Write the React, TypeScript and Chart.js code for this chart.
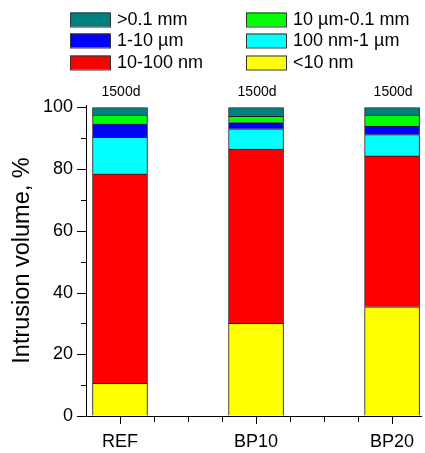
import React, { useEffect, useRef } from "react";
import { Chart, registerables } from "chart.js";

Chart.register(...registerables);

const categories = ["REF", "BP10", "BP20"];
const topLabels = ["1500d", "1500d", "1500d"];
const seriesLabels = ["<10 nm", "10-100 nm", "100 nm-1 µm", "1-10 µm", "10 µm-0.1 mm", ">0.1 mm"];
const seriesColors = ["#ffff00", "#ff0000", "#00ffff", "#0000ff", "#00ff00", "#008080"];
const below10nm = [10.6, 30.0, 35.4];
const nm10to100 = [67.9, 56.5, 48.9];
const nm100to1um = [11.8, 6.6, 6.9];
const um1to10 = [4.4, 2.0, 2.8];
const um10to01mm = [2.8, 2.0, 3.5];
const above01mm = [2.5, 2.9, 2.5];
const yTicks = [0, 10, 20, 30, 40, 50, 60, 70, 80, 90, 100];
const yTitle = "Intrusion volume, %";

const seriesValues = [below10nm, nm10to100, nm100to1um, um1to10, um10to01mm, above01mm];
const FONT = "Arial, 'Liberation Sans', sans-serif";

const drawPlugin = {
  id: "customDraw",
  afterDraw(chart: any) {
    const ctx = chart.ctx;
    const xs = chart.scales.x;
    const ys = chart.scales.y;
    const area = chart.chartArea;
    ctx.save();
    ctx.strokeStyle = "#000";
    ctx.lineWidth = 1;
    // axes
    ctx.beginPath();
    ctx.moveTo(area.left + 0.5, area.top);
    ctx.lineTo(area.left + 0.5, area.bottom + 0.5);
    ctx.lineTo(area.right, area.bottom + 0.5);
    ctx.stroke();
    // y ticks
    ctx.beginPath();
    yTicks.forEach((v) => {
      const y = Math.round(ys.getPixelForValue(v)) + 0.5;
      const len = v % 20 === 0 ? 9 : 5;
      ctx.moveTo(area.left - len, y);
      ctx.lineTo(area.left, y);
    });
    // x ticks
    for (let v = 1; v <= 3.01; v += 0.25) {
      const x = Math.round(xs.getPixelForValue(v)) + 0.5;
      const major = Math.abs(v - Math.round(v)) < 1e-6;
      const len = major ? 8 : 6;
      ctx.moveTo(x, area.bottom);
      ctx.lineTo(x, area.bottom + len);
    }
    ctx.stroke();
    // top labels
    ctx.fillStyle = "#000";
    ctx.font = `14px ${FONT}`;
    ctx.textAlign = "center";
    ctx.textBaseline = "middle";
    topLabels.forEach((t, i) => {
      ctx.fillText(t, xs.getPixelForValue(i + 1) + 1, ys.getPixelForValue(100) - 15.5);
    });
    // y title
    ctx.save();
    ctx.translate(23, (area.top + area.bottom) / 2);
    ctx.rotate(-Math.PI / 2);
    ctx.font = `23.5px ${FONT}`;
    ctx.textAlign = "center";
    ctx.textBaseline = "middle";
    ctx.fillText(yTitle, 0, 0);
    ctx.restore();
    // legend
    const order = [5, 4, 3, 2, 1, 0];
    const colBox = [70, 246];
    const colText = [117, 293];
    const rowY = [19.5, 40.5, 62.5];
    ctx.font = `18px ${FONT}`;
    ctx.textAlign = "left";
    ctx.textBaseline = "middle";
    order.forEach((di, k) => {
      const col = k % 2;
      const row = Math.floor(k / 2);
      const y = rowY[row];
      ctx.fillStyle = seriesColors[di];
      ctx.fillRect(colBox[col], y - 7, 40, 14);
      ctx.strokeStyle = "#333";
      ctx.strokeRect(colBox[col] + 0.5, y - 7 + 0.5, 40, 14);
      ctx.fillStyle = "#000";
      ctx.fillText(seriesLabels[di], colText[col], y + 1);
    });
    ctx.restore();
  },
};

export default function App() {
  const ref = useRef<HTMLCanvasElement>(null);
  useEffect(() => {
    document.body.style.margin = "0";
    const datasets = seriesValues.map((vals, i) => ({
      label: seriesLabels[i],
      data: vals.map((v, j) => ({ x: j + 1, y: v })),
      backgroundColor: seriesColors[i],
      borderColor: "#1a1a1a",
      borderWidth: 1,
      barThickness: 55,
    }));
    const chart = new Chart(ref.current as HTMLCanvasElement, {
      type: "bar",
      data: { datasets },
      plugins: [drawPlugin],
      options: {
        responsive: false,
        animation: false,
        layout: { padding: { top: 105, right: 3, left: 0, bottom: 0 } },
        plugins: { legend: { display: false }, tooltip: { enabled: false } },
        scales: {
          x: {
            type: "linear",
            stacked: true,
            offset: false,
            min: 0.75,
            max: 3.22,
            afterBuildTicks: (s: any) => {
              s.ticks = [1, 2, 3].map((v) => ({ value: v }));
            },
            afterFit: (s: any) => {
              s.height = 37;
            },
            ticks: {
              color: "#000",
              font: { family: FONT, size: 18 },
              padding: 7,
              maxRotation: 0,
              autoSkip: false,
              callback: (v: any) => categories[Math.round(v) - 1] ?? "",
            },
            grid: { display: true, drawOnChartArea: false, drawTicks: true, tickLength: 8, color: "rgba(0,0,0,0)" },
            border: { display: false },
          },
          y: {
            stacked: true,
            min: 0,
            max: 100.8,
            afterBuildTicks: (s: any) => {
              s.ticks = yTicks.map((v) => ({ value: v }));
            },
            afterFit: (s: any) => {
              s.width = 86;
            },
            ticks: {
              color: "#000",
              font: { family: FONT, size: 18 },
              padding: 5,
              autoSkip: false,
              callback: (v: any) => (v % 20 === 0 ? String(v) : ""),
            },
            grid: { display: true, drawOnChartArea: false, drawTicks: true, tickLength: 8, color: "rgba(0,0,0,0)" },
            border: { display: false },
          },
        },
      },
    });
    return () => chart.destroy();
  }, []);
  return (
    <div style={{ width: 425, height: 453 }}>
      <canvas ref={ref} width={425} height={453} style={{ display: "block" }} />
    </div>
  );
}
